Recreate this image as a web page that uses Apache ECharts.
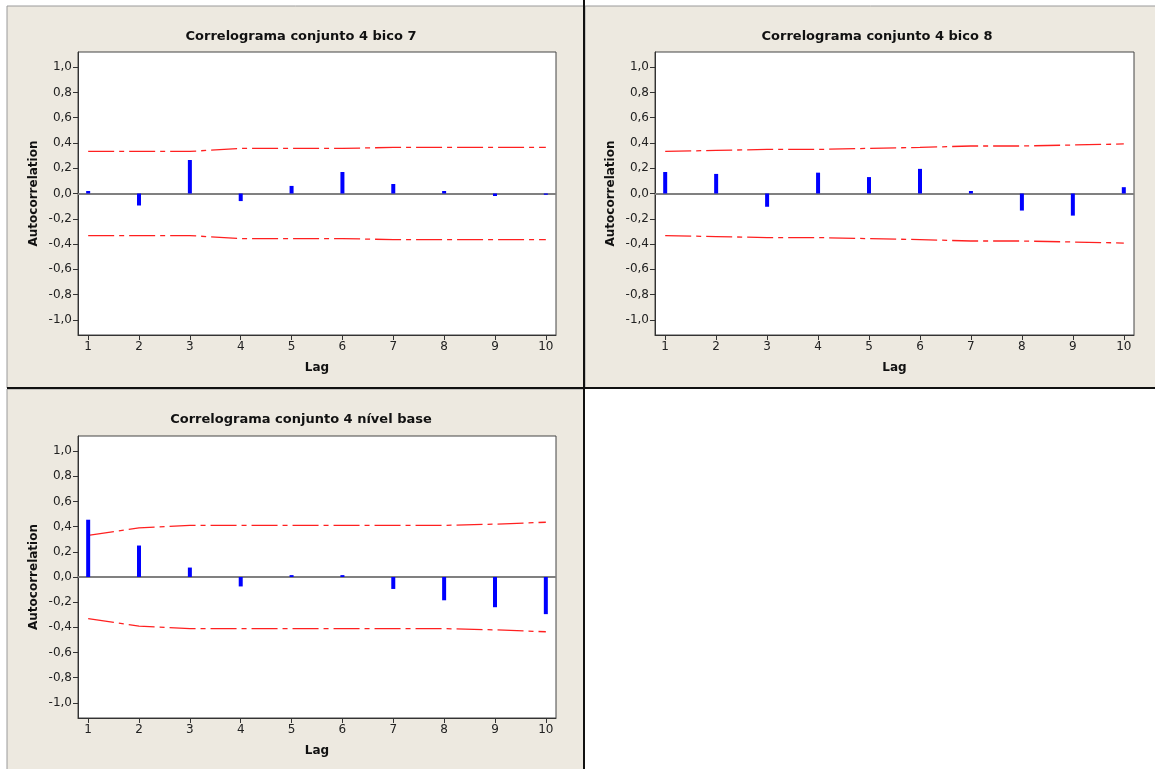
<!DOCTYPE html>
<html>
<head>
<meta charset="utf-8">
<script src="https://cdn.jsdelivr.net/npm/echarts@6/dist/echarts.min.js"></script>
<style>
html,body{margin:0;padding:0;background:#fff;}
#chart{width:1155px;height:769px;}
</style>
</head>
<body>
<div id="chart"></div>
<script>
// ---- data ----
const lags = [1, 2, 3, 4, 5, 6, 7, 8, 9, 10];
const yTickValues = [-1.0, -0.8, -0.6, -0.4, -0.2, 0.0, 0.2, 0.4, 0.6, 0.8, 1.0];
const yTickLabels = ['-1,0', '-0,8', '-0,6', '-0,4', '-0,2', '0,0', '0,2', '0,4', '0,6', '0,8', '1,0'];

const titleBico7 = 'Correlograma conjunto 4 bico 7';
const acfBico7 = [0.02, -0.095, 0.265, -0.06, 0.06, 0.17, 0.075, 0.02, -0.02, -0.01];
const limBico7 = [0.333, 0.333, 0.333, 0.357, 0.357, 0.357, 0.365, 0.365, 0.365, 0.365];

const titleBico8 = 'Correlograma conjunto 4 bico 8';
const acfBico8 = [0.17, 0.155, -0.105, 0.165, 0.13, 0.195, 0.02, -0.135, -0.175, 0.05];
const limBico8 = [0.333, 0.341, 0.349, 0.349, 0.357, 0.365, 0.376, 0.376, 0.384, 0.392];

const titleBase = 'Correlograma conjunto 4 n\u00edvel base';
const acfBase = [0.455, 0.25, 0.075, -0.075, 0.015, 0.015, -0.095, -0.185, -0.24, -0.295];
const limBase = [0.33, 0.39, 0.41, 0.41, 0.41, 0.41, 0.41, 0.41, 0.42, 0.435];

const xAxisName = 'Lag';
const yAxisName = 'Autocorrelation';

// ---- chart construction ----
const FONT = 'DejaVu Sans';
const panels = [
  { title: titleBico7, acf: acfBico7, lim: limBico7, grid: { left: 78, top: 52, width: 478, height: 283 }, cx: 296, ty: 25 },
  { title: titleBico8, acf: acfBico8, lim: limBico8, grid: { left: 655, top: 52, width: 479, height: 283 }, cx: 872, ty: 25 },
  { title: titleBase, acf: acfBase, lim: limBase, grid: { left: 78, top: 436, width: 478, height: 282 }, cx: 296, ty: 408 }
];

const option = {
  animation: false,
  backgroundColor: 'transparent',
  title: [], grid: [], xAxis: [], yAxis: [], series: [],
  graphic: { elements: [
    { type: 'rect', z: -100, shape: { x: 7, y: 6, width: 577, height: 382 }, style: { fill: '#EDE9E0', stroke: '#9a9a9a', lineWidth: 1 } },
    { type: 'rect', z: -100, shape: { x: 585, y: 6, width: 575, height: 382 }, style: { fill: '#EDE9E0', stroke: '#9a9a9a', lineWidth: 1 } },
    { type: 'rect', z: -100, shape: { x: 7, y: 389, width: 577, height: 385 }, style: { fill: '#EDE9E0', stroke: '#9a9a9a', lineWidth: 1 } },
    { type: 'line', z: 100, shape: { x1: 584, y1: 0, x2: 584, y2: 769 }, style: { stroke: '#111', lineWidth: 2 } },
    { type: 'line', z: 100, shape: { x1: 7, y1: 388, x2: 1155, y2: 388 }, style: { stroke: '#111', lineWidth: 2 } }
  ]}
};

panels.forEach((p, i) => {
  option.title.push({
    text: p.title, left: p.cx, top: p.ty, textAlign: 'center',
    textStyle: { fontFamily: FONT, fontSize: 13, fontWeight: 'bold', color: '#111' }
  });
  option.grid.push(Object.assign({ show: true, backgroundColor: '#fff', borderColor: '#444', borderWidth: 1 }, p.grid));
  option.xAxis.push({
    type: 'value', gridIndex: i, min: 0.8, max: 10.2,
    name: xAxisName, nameLocation: 'middle', nameGap: 27,
    nameTextStyle: { fontFamily: FONT, fontSize: 12, fontWeight: 'bold', color: '#111' },
    axisLine: { show: true, onZero: false, lineStyle: { color: '#333', width: 1 } },
    axisTick: { show: true, length: 5, customValues: lags, lineStyle: { color: '#333' } },
    axisLabel: { customValues: lags, margin: 6, fontFamily: FONT, fontSize: 12, color: '#222' },
    splitLine: { show: false }
  });
  option.yAxis.push({
    type: 'value', gridIndex: i, min: -1.12, max: 1.12,
    name: yAxisName, nameLocation: 'middle', nameGap: 38,
    nameTextStyle: { fontFamily: FONT, fontSize: 12, fontWeight: 'bold', color: '#111' },
    axisLine: { show: true, onZero: false, lineStyle: { color: '#333', width: 1 } },
    axisTick: { show: true, length: 5, customValues: yTickValues, lineStyle: { color: '#333' } },
    axisLabel: {
      customValues: yTickValues, margin: 6, fontFamily: FONT, fontSize: 12, color: '#222',
      formatter: v => { const k = yTickValues.findIndex(t => Math.abs(t - v) < 1e-6); return k >= 0 ? yTickLabels[k] : ''; }
    },
    splitLine: { show: false }
  });
  const dash = { color: '#FF2020', width: 1.3, type: [26, 5, 5, 5] };
  // upper limit line carries the gray zero reference line, drawn under the bars
  option.series.push({
    type: 'line', xAxisIndex: i, yAxisIndex: i, symbol: 'none', z: 2,
    lineStyle: dash, data: lags.map((l, k) => [l, p.lim[k]]),
    markLine: {
      silent: true, symbol: 'none', label: { show: false },
      lineStyle: { color: '#808080', width: 2, type: 'solid' },
      data: [{ yAxis: 0 }]
    }
  });
  option.series.push({
    type: 'line', xAxisIndex: i, yAxisIndex: i, symbol: 'none', z: 2,
    lineStyle: dash, data: lags.map((l, k) => [l, -p.lim[k]])
  });
  option.series.push({
    type: 'bar', xAxisIndex: i, yAxisIndex: i, barWidth: 4, z: 5,
    itemStyle: { color: '#0000FF' },
    data: lags.map((l, k) => [l, p.acf[k]])
  });
});

const chart = echarts.init(document.getElementById('chart'), null, { renderer: 'canvas' });
chart.setOption(option);
</script>
</body>
</html>
